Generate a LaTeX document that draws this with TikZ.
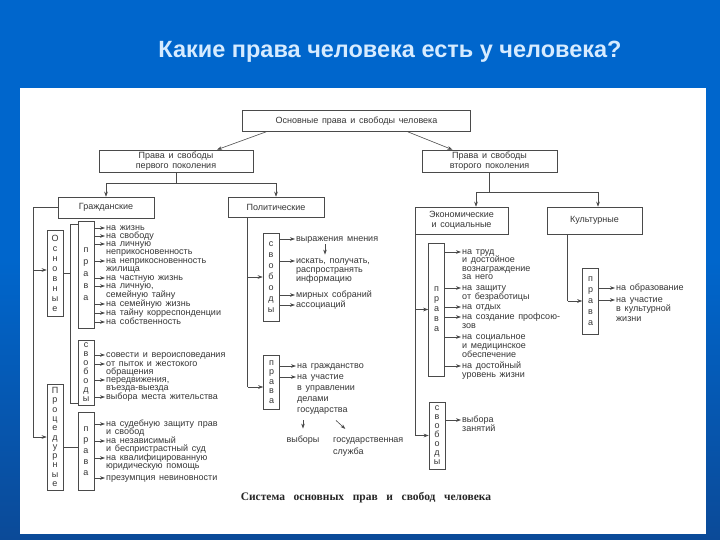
\documentclass[tikz,border=0pt]{standalone}
\usepackage{fontspec}
\setmainfont{Liberation Sans}
\newfontfamily\dg[WordSpace=1.5]{Liberation Sans}
\newfontfamily\capf[WordSpace=3]{Liberation Serif}
\usetikzlibrary{arrows.meta}
\definecolor{bgblue}{HTML}{0066CC}
\definecolor{bgdark}{HTML}{0B4A98}
\definecolor{titlec}{HTML}{D6EBFF}
\definecolor{linec}{HTML}{4A4A4A}
\definecolor{txtc}{HTML}{363636}
\begin{document}
\begin{tikzpicture}[x=1pt,y=-1pt,
  line/.style={draw=linec, line width=0.6pt},
  arr/.style={line, -{Stealth[length=5pt,width=3.6pt]}},
  sarr/.style={line, -{Stealth[length=5pt,width=3.6pt]}, shorten >=1pt},
  box/.style={draw=linec, line width=0.6pt, fill=white, inner sep=1pt, align=center, text=txtc, font=\dg\fontsize{9}{10}\selectfont},
  vbox/.style={draw=linec, line width=0.6pt, inner sep=0pt, minimum width=16pt, align=center, text=txtc},
  item/.style={anchor=west, inner sep=0pt, text height=6.5pt, text depth=2pt, text=txtc, font=\dg\fontsize{9}{9}\selectfont}]
\useasboundingbox (0,0) rectangle (720,540);
\fill[bgblue] (0,0) rectangle (720,540);
\shade[top color=bgblue, bottom color=bgdark] (0,260) rectangle (720,540);
\fill[white] (20,88) rectangle (706,534);

\node[font=\bfseries\fontsize{23.5}{25}\selectfont, text=titlec] (title) at (390,52) {Какие права человека есть у человека?};

% main boxes
\node[box, minimum width=228pt, minimum height=21pt] (top) at (356.5,121) {Основные права и свободы человека};
\node[box, minimum width=154pt, minimum height=22pt] (gen1) at (176,161) {Права и свободы\\первого поколения};
\node[box, minimum width=135pt, minimum height=22pt] (gen2) at (489.5,161) {Права и свободы\\второго поколения};
\node[box, minimum width=96pt, minimum height=21pt] (grazh) at (106,207.5) {Гражданские};
\node[box, minimum width=96pt, minimum height=20pt] (polit) at (276,207) {Политические};
\node[box, minimum width=93pt, minimum height=27pt] (econ) at (461.5,220.5) {Экономические\\и социальные};
\node[box, minimum width=95pt, minimum height=27pt] (cult) at (594.5,220.5) {Культурные};

\draw[arr] ([xshift=24pt]top.south west) -- ([xshift=41pt]gen1.north);
\draw[arr] ([xshift=-63pt]top.south east) -- ([xshift=-37pt]gen2.north);

\coordinate (j1) at ([yshift=-11pt]gen1.south);
\draw[line] (gen1.south) -- (j1);
\draw[line] (grazh.north |- j1) -- (polit.north |- j1);
\draw[arr] (grazh.north |- j1) -- (grazh.north);
\draw[arr] (polit.north |- j1) -- (polit.north);

\coordinate (j2) at ([yshift=-20pt]gen2.south);
\coordinate (ea) at ([xshift=14.5pt]econ.north);
\coordinate (ca) at ([xshift=3.5pt]cult.north);
\draw[line] (gen2.south) -- (j2);
\draw[line] (ea |- j2) -- (ca |- j2);
\draw[arr] (ea |- j2) -- (ea);
\draw[arr] (ca |- j2) -- (ca);

% vertical letter boxes
\node[vbox, minimum height=86pt, font=\dg\fontsize{9}{10}\selectfont] (osn) at (55,273) {О\\с\\н\\о\\в\\н\\ы\\е};
\node[vbox, minimum height=106pt, font=\dg\fontsize{9}{9.3}\selectfont] (proc) at (55,437) {П\\р\\о\\ц\\е\\д\\у\\р\\н\\ы\\е};
\node[vbox, minimum height=107pt, font=\dg\fontsize{9}{12}\selectfont] (pr1) at (86,274.5) {п\\р\\а\\в\\а};
\node[vbox, minimum height=65pt, font=\dg\fontsize{9}{9}\selectfont] (sv1) at (86,372.5) {с\\в\\о\\б\\о\\д\\ы};
\node[vbox, minimum height=78pt, font=\dg\fontsize{9}{11}\selectfont] (pr2) at (86,451) {п\\р\\а\\в\\а};
\node[vbox, minimum height=88pt, font=\dg\fontsize{9}{11}\selectfont] (psv) at (271,277) {с\\в\\о\\б\\о\\д\\ы};
\node[vbox, minimum height=54pt, font=\dg\fontsize{9}{9.5}\selectfont] (ppr) at (271.5,382) {п\\р\\а\\в\\а};
\node[vbox, minimum height=133pt, font=\dg\fontsize{9}{10}\selectfont] (epr) at (436.5,309.5) {п\\р\\а\\в\\а};
\node[vbox, minimum height=67pt, font=\dg\fontsize{9}{9}\selectfont] (esv) at (437,435.5) {с\\в\\о\\б\\о\\д\\ы};
\node[vbox, minimum height=66pt, font=\dg\fontsize{9}{11}\selectfont] (cpr) at (590.5,301) {п\\р\\а\\в\\а};

% left branch
\coordinate (lx) at (33,0);
\coordinate (osnin) at ([yshift=3pt]osn.west);
\draw[line] (grazh.west) -- (grazh.west -| lx) -- (lx |- proc.west);
\draw[arr] (lx |- osnin) -- (osnin);
\draw[arr] (lx |- proc.west) -- (proc.west);
\coordinate (bx) at (70,0);
\coordinate (bt) at ([yshift=-4pt]pr1.north west);
\coordinate (bb) at ([yshift=2pt]sv1.south west);
\draw[line] (bt) -- (bt -| bx) -- (bb -| bx) -- (bb);
\draw[line] (osn.east) -- (osn.east -| bx);
\coordinate (pin) at ([yshift=-10pt]proc.east);
\draw[line] (pin) -- (pin -| pr2.west);

% political branch
\coordinate (pv) at ([xshift=20pt]polit.south west);
\coordinate (ppin) at ([yshift=-5pt]ppr.west);
\draw[line] (pv) -- (pv |- ppin);
\draw[arr] (pv |- psv.west) -- (psv.west);
\draw[arr] (pv |- ppin) -- (ppin);

% economic branch
\coordinate (ev) at ([xshift=1pt]econ.south west);
\draw[line] (ev) -- (ev |- esv.west);
\draw[arr] (ev |- epr.west) -- (epr.west);
\draw[arr] (ev |- esv.west) -- (esv.west);

% cultural branch
\coordinate (cv) at ([xshift=21pt]cult.south west);
\draw[line] (cv) -- (cv |- cpr.west);
\draw[arr] (cv |- cpr.west) -- (cpr.west);

% items: civil basic rights
\foreach \n/\y/\t in {g1/228/{на жизнь}, g2/236/{на свободу}, g3/244/{на личную}, g4/252/{неприкосновенность}, g5/261/{на неприкосновенность}, g6/269/{жилища}, g7/278/{на частную жизнь}, g8/286/{на личную,}, g9/295/{семейную тайну}, g10/304/{на семейную жизнь}, g11/313/{на тайну корреспонденции}, g12/322/{на собственность}}
  \node[item] (\n) at (106,\y) {\t};
\foreach \n in {g1,g2,g3,g5,g7,g8,g10,g11,g12}
  \draw[sarr] (pr1.east |- \n.west) -- (\n.west);

\foreach \n/\y/\t in {s1/355/{совести и вероисповедания}, s2/364/{от пыток и жестокого}, s3/372/{обращения}, s4/380/{передвижения,}, s5/388/{въезда-выезда}, s6/397/{выбора места жительства}}
  \node[item] (\n) at (106,\y) {\t};
\foreach \n in {s1,s2,s4,s6}
  \draw[sarr] (sv1.east |- \n.west) -- (\n.west);

\foreach \n/\y/\t in {p1/424/{на судебную защиту прав}, p2/432/{и свобод}, p3/441/{на независимый}, p4/449/{и беспристрастный суд}, p5/458/{на квалифицированную}, p6/466/{юридическую помощь}, p7/478/{презумпция невиновности}}
  \node[item] (\n) at (106,\y) {\t};
\foreach \n in {p1,p3,p5,p7}
  \draw[sarr] (pr2.east |- \n.west) -- (\n.west);

% political items
\foreach \n/\y/\t in {f1/239/{выражения мнения}, f2/261/{искать, получать,}, f3/270/{распространять}, f4/279/{информацию}, f5/295/{мирных собраний}, f6/305/{ассоциаций}}
  \node[item] (\n) at (296,\y) {\t};
\foreach \n in {f1,f2,f5,f6}
  \draw[sarr] (psv.east |- \n.west) -- (\n.west);
\coordinate (d3) at ([xshift=29pt]f1.south west);
\draw[sarr] ([yshift=-1pt]d3) -- ([xshift=29pt,yshift=1pt]f2.north west);

\foreach \n/\y/\t in {r1/366/{на гражданство}, r2/377/{на участие}, r3/388/{в управлении}, r4/399/{делами}, r5/410/{государства}}
  \node[item] (\n) at (297,\y) {\t};
\foreach \n in {r1,r2}
  \draw[sarr] (ppr.east |- \n.west) -- (\n.west);
\node[item, anchor=center] (vyb) at (303,440) {выборы};
\node[item] (gos) at (333,440) {государственная};
\node[item] (slu) at (333,452) {служба};
\coordinate (d1) at (vyb.north |- r5.south);
\draw[sarr] ([yshift=-6pt]d1) -- ([yshift=6pt]vyb.north);
\coordinate (d2) at (gos.north west |- r5.south);
\draw[sarr] ([xshift=3pt,yshift=-6pt]d2) -- ([xshift=13pt,yshift=6pt]gos.north west);

% economic items
\foreach \n/\y/\t in {e1/252/{на труд}, e2/260/{и достойное}, e3/269/{вознаграждение}, e4/277/{за него}, e5/288/{на защиту}, e6/297/{от безработицы}, e7/307/{на отдых}, e8/317/{на создание профсою-}, e9/326/{зов}, e10/337/{на социальное}, e11/346/{и медицинское}, e12/355/{обеспечение}, e13/366/{на достойный}, e14/375/{уровень жизни}}
  \node[item] (\n) at (462,\y) {\t};
\foreach \n in {e1,e5,e7,e8,e10,e13}
  \draw[sarr] (epr.east |- \n.west) -- (\n.west);
\foreach \n/\y/\t in {v1/420/{выбора}, v2/429/{занятий}}
  \node[item] (\n) at (462,\y) {\t};
\draw[sarr] (esv.east |- v1.west) -- (v1.west);

% cultural items
\foreach \n/\y/\t in {c1/288/{на образование}, c2/300/{на участие}, c3/309/{в культурной}, c4/319/{жизни}}
  \node[item] (\n) at (616,\y) {\t};
\foreach \n in {c1,c2}
  \draw[sarr] (cpr.east |- \n.west) -- (\n.west);

\node[font=\capf\bfseries\fontsize{11.5}{13}\selectfont, text=black!85] (cap) at (366,498) {Система основных прав и свобод человека};
\end{tikzpicture}
\end{document}
